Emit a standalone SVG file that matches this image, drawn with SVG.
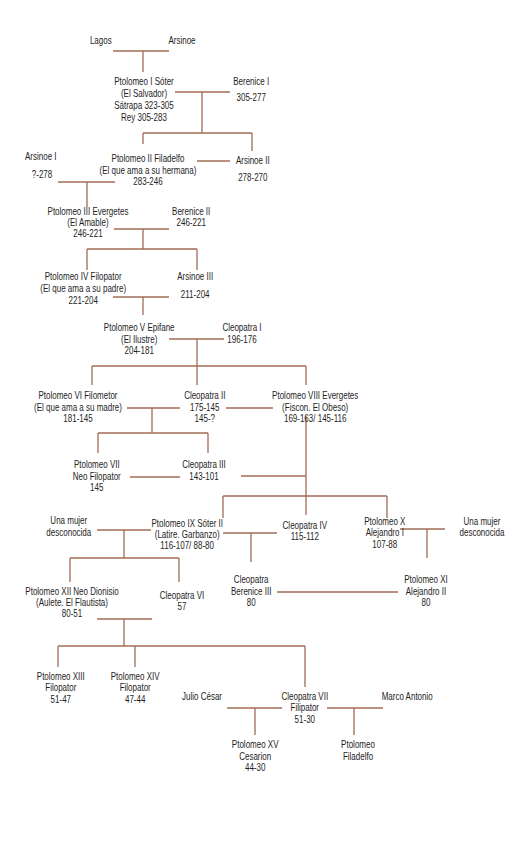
<svg xmlns="http://www.w3.org/2000/svg" width="526" height="868" viewBox="0 0 526 868">
<style>
.c line{stroke:#a06c55;stroke-width:1.3;fill:none}
text{font-family:"Liberation Sans",Arial,sans-serif;font-size:10px;fill:#1e1e1e;text-anchor:middle}
</style>
<rect width="526" height="868" fill="#ffffff"/>
<g id="connectors" class="c">
<line x1="113" y1="51" x2="169" y2="51"/><line x1="143" y1="51" x2="143" y2="72"/>
<line x1="175" y1="92" x2="230" y2="92"/><line x1="202" y1="92" x2="202" y2="133"/>
<line x1="143" y1="133" x2="252" y2="133"/><line x1="143" y1="133" x2="143" y2="144"/><line x1="252" y1="133" x2="252" y2="151"/>
<line x1="197" y1="161" x2="230" y2="161"/>
<line x1="58" y1="182" x2="115" y2="182"/><line x1="87" y1="182" x2="87" y2="207"/>
<line x1="114" y1="229" x2="169" y2="229"/><line x1="143" y1="229" x2="143" y2="249"/>
<line x1="87" y1="249" x2="197" y2="249"/><line x1="87" y1="249" x2="87" y2="270"/><line x1="197" y1="249" x2="197" y2="270"/>
<line x1="113" y1="297" x2="169" y2="297"/><line x1="143" y1="297" x2="143" y2="315"/>
<line x1="169" y1="339" x2="224" y2="339"/><line x1="197" y1="339" x2="197" y2="366"/>
<line x1="92" y1="366" x2="306" y2="366"/><line x1="92" y1="366" x2="92" y2="385"/><line x1="197" y1="366" x2="197" y2="385"/><line x1="306" y1="366" x2="306" y2="385"/>
<line x1="127" y1="408" x2="180" y2="408"/><line x1="152" y1="408" x2="152" y2="433"/>
<line x1="226" y1="408" x2="273" y2="408"/>
<line x1="306" y1="416" x2="306" y2="515"/>
<line x1="98" y1="433" x2="208" y2="433"/><line x1="98" y1="433" x2="98" y2="453"/><line x1="208" y1="433" x2="208" y2="453"/>
<line x1="130" y1="477" x2="180" y2="477"/><line x1="241" y1="476" x2="306" y2="476"/>
<line x1="223" y1="496" x2="387" y2="496"/><line x1="223" y1="496" x2="223" y2="518"/><line x1="387" y1="496" x2="387" y2="518"/>
<line x1="97" y1="530" x2="151" y2="530"/><line x1="124" y1="530" x2="124" y2="558"/>
<line x1="223" y1="533" x2="277" y2="533"/><line x1="251" y1="533" x2="251" y2="562"/>
<line x1="400" y1="529" x2="445" y2="529"/><line x1="427" y1="529" x2="427" y2="558"/>
<line x1="70" y1="558" x2="179" y2="558"/><line x1="70" y1="558" x2="70" y2="582"/><line x1="179" y1="558" x2="179" y2="582"/>
<line x1="277" y1="592" x2="398" y2="592"/>
<line x1="97" y1="619" x2="152" y2="619"/><line x1="124" y1="619" x2="124" y2="646"/>
<line x1="58" y1="646" x2="305" y2="646"/><line x1="58" y1="646" x2="58" y2="667"/><line x1="135" y1="646" x2="135" y2="667"/><line x1="305" y1="646" x2="305" y2="687"/>
<line x1="227" y1="708" x2="282" y2="708"/><line x1="255" y1="708" x2="255" y2="735"/>
<line x1="327" y1="708" x2="383" y2="708"/><line x1="354" y1="708" x2="354" y2="735"/>
</g>
<g transform="scale(0.8,1)">
<g id="lagos"><text x="126" y="44.5">Lagos</text></g>
<g id="arsinoe"><text x="227.5" y="44.5">Arsinoe</text></g>
<g id="ptolomeo1"><text x="180" y="85.5">Ptolomeo I Sóter</text><text x="180" y="97.5">(El Salvador)</text><text x="180" y="109.5">Sátrapa 323-305</text><text x="180" y="121.5">Rey 305-283</text></g>
<g id="berenice1"><text x="314" y="85.5">Berenice I</text><text x="314" y="101.5">305-277</text></g>
<g id="ptolomeo2"><text x="185" y="162.5">Ptolomeo II Filadelfo</text><text x="185" y="174">(El que ama a su hermana)</text><text x="185" y="185.5">283-246</text></g>
<g id="arsinoe2"><text x="316" y="164.5">Arsinoe II</text><text x="316" y="181.5">278-270</text></g>
<g id="arsinoe1"><text x="51" y="160.5">Arsinoe I</text><text x="52.5" y="178.5">?-278</text></g>
<g id="ptolomeo3"><text x="110" y="215.5">Ptolomeo III Evergetes</text><text x="110" y="226.5">(El Amable)</text><text x="110" y="237.5">246-221</text></g>
<g id="berenice2"><text x="239" y="215.5">Berenice II</text><text x="239" y="226.5">246-221</text></g>
<g id="ptolomeo4"><text x="104" y="280.5">Ptolomeo IV Filopator</text><text x="104" y="292.5">(El que ama a su padre)</text><text x="104" y="304.5">221-204</text></g>
<g id="arsinoe3"><text x="244" y="280.5">Arsinoe III</text><text x="244" y="298.5">211-204</text></g>
<g id="ptolomeo5"><text x="174" y="331.5">Ptolomeo V Epifane</text><text x="174" y="343.5">(El Ilustre)</text><text x="174" y="354.5">204-181</text></g>
<g id="cleopatra1"><text x="302.5" y="331.5">Cleopatra I</text><text x="302.5" y="343.5">196-176</text></g>
<g id="ptolomeo6"><text x="97.5" y="399.5">Ptolomeo VI Filometor</text><text x="97.5" y="411.5">(El que ama a su madre)</text><text x="97.5" y="422.5">181-145</text></g>
<g id="cleopatra2"><text x="256" y="399.5">Cleopatra II</text><text x="256" y="411.5">175-145</text><text x="256" y="422.5">145-?</text></g>
<g id="ptolomeo8"><text x="394" y="399.5">Ptolomeo VIII Evergetes</text><text x="394" y="411.5">(Fiscon. El Obeso)</text><text x="394" y="422.5">169-163/ 145-116</text></g>
<g id="ptolomeo7"><text x="121" y="468.5">Ptolomeo VII</text><text x="121" y="480.5">Neo Filopator</text><text x="121" y="491.5">145</text></g>
<g id="cleopatra3"><text x="255" y="468.5">Cleopatra III</text><text x="255" y="480.5">143-101</text></g>
<g id="mujer1"><text x="86" y="524.5">Una mujer</text><text x="86" y="536.5">desconocida</text></g>
<g id="ptolomeo9"><text x="234" y="527.5">Ptolomeo IX Sóter II</text><text x="234" y="538.5">(Latire. Garbanzo)</text><text x="234" y="549.5">116-107/ 88-80</text></g>
<g id="cleopatra4"><text x="381" y="529.5">Cleopatra IV</text><text x="381" y="540.5">115-112</text></g>
<g id="ptolomeo10"><text x="481" y="525.5">Ptolomeo X</text><text x="481" y="536.5">Alejandro I</text><text x="481" y="548.5">107-88</text></g>
<g id="mujer2"><text x="602.5" y="525.5">Una mujer</text><text x="602.5" y="536.5">desconocida</text></g>
<g id="berenice3"><text x="314" y="583.5">Cleopatra</text><text x="314" y="595.5">Berenice III</text><text x="314" y="606.5">80</text></g>
<g id="ptolomeo11"><text x="532.5" y="583.5">Ptolomeo XI</text><text x="532.5" y="595.5">Alejandro II</text><text x="532.5" y="606.5">80</text></g>
<g id="ptolomeo12"><text x="90" y="595.5">Ptolomeo XII Neo Dionisio</text><text x="90" y="606.5">(Aulete. El Flautista)</text><text x="90" y="617.5">80-51</text></g>
<g id="cleopatra6"><text x="227.5" y="599.5">Cleopatra VI</text><text x="227.5" y="610.5">57</text></g>
<g id="ptolomeo13"><text x="76" y="680.5">Ptolomeo XIII</text><text x="76" y="691.5">Filopator</text><text x="76" y="703.5">51-47</text></g>
<g id="ptolomeo14"><text x="169" y="680.5">Ptolomeo XIV</text><text x="169" y="691.5">Filopator</text><text x="169" y="703.5">47-44</text></g>
<g id="julio"><text x="252.5" y="700.5">Julio César</text></g>
<g id="cleopatra7"><text x="381" y="700.5">Cleopatra VII</text><text x="381" y="711.5">Filipator</text><text x="381" y="723.5">51-30</text></g>
<g id="marco"><text x="509" y="700.5">Marco Antonio</text></g>
<g id="ptolomeo15"><text x="319" y="748.5">Ptolomeo XV</text><text x="319" y="760.5">Cesarion</text><text x="319" y="771.5">44-30</text></g>
<g id="filadelfo"><text x="447.5" y="748.5">Ptolomeo</text><text x="447.5" y="760.5">Filadelfo</text></g>
</g>
</svg>
